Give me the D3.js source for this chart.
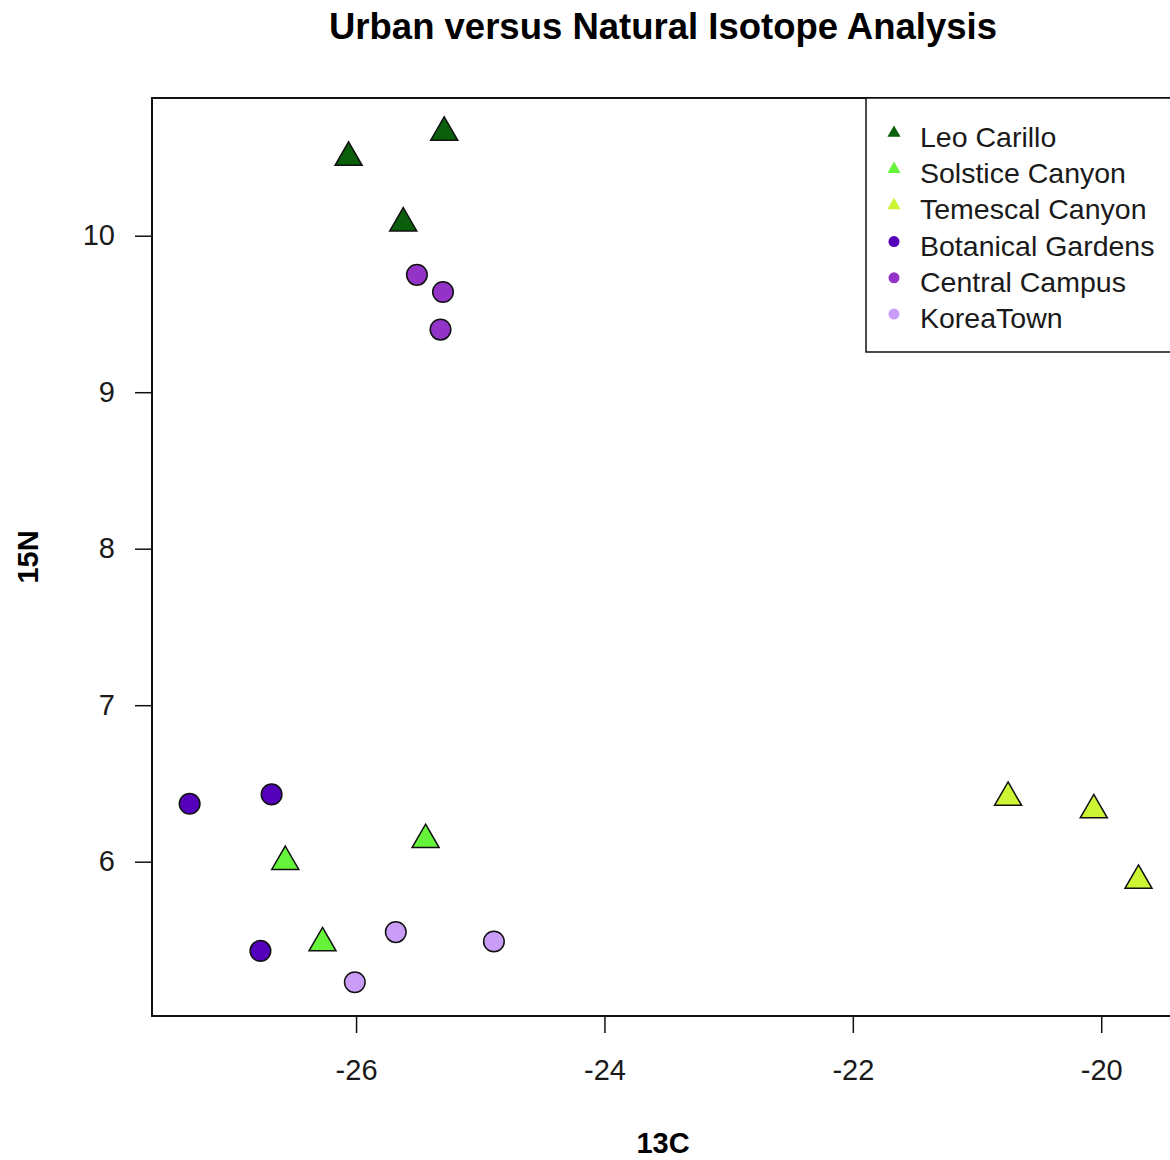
<!DOCTYPE html>
<html>
<head>
<meta charset="utf-8">
<script src="https://cdn.jsdelivr.net/npm/d3@7"></script>
<style>
  body { margin: 0; background: #fff; }
  text { font-family: "Liberation Sans", Arial, sans-serif; }
</style>
</head>
<body>
<div id="chart"></div>
<script>
// sites, in legend order
const sites = ["Leo Carillo", "Solstice Canyon", "Temescal Canyon", "Botanical Gardens", "Central Campus", "KoreaTown"];
const siteColors = ["#0b5e0b", "#66f43a", "#ccf533", "#5500bb", "#9433c8", "#c99cf7"];
const siteShapes = ["triangle", "triangle", "triangle", "circle", "circle", "circle"];

// 13C / 15N readings per site
const leoC13 = [-25.29, -26.06, -25.62];
const leoN15 = [10.66, 10.50, 10.08];
const solsticeC13 = [-26.57, -25.44, -26.27];
const solsticeN15 = [6.00, 6.14, 5.48];
const temescalC13 = [-20.75, -20.06, -19.70];
const temescalN15 = [6.41, 6.33, 5.88];
const botanicalC13 = [-27.34, -26.68, -26.77];
const botanicalN15 = [6.37, 6.43, 5.43];
const campusC13 = [-25.51, -25.30, -25.32];
const campusN15 = [9.75, 9.64, 9.40];
const koreaC13 = [-25.68, -24.89, -26.01];
const koreaN15 = [5.55, 5.49, 5.23];

const xTicks = [-26, -24, -22, -20];
const yTicks = [6, 7, 8, 9, 10];

const allC13 = [leoC13, solsticeC13, temescalC13, botanicalC13, campusC13, koreaC13];
const allN15 = [leoN15, solsticeN15, temescalN15, botanicalN15, campusN15, koreaN15];

let points = [];
sites.forEach((s, i) => {
  allC13[i].forEach((c, j) => points.push({site: i, c13: c, n15: allN15[i][j]}));
});

const width = 1170, height = 1160;
const plot = {left: 152, right: 1174, top: 98, bottom: 1016};

const svg = d3.select("#chart").append("svg")
  .attr("width", width).attr("height", height);

const x = d3.scaleLinear().domain([-27.643, -19.414]).range([plot.left, plot.right]);
const y = d3.scaleLinear().domain([5.014, 10.880]).range([plot.bottom, plot.top]);

// title
svg.append("text")
  .attr("x", (plot.left + plot.right) / 2).attr("y", 39)
  .attr("text-anchor", "middle")
  .style("font-size", "36.5px").style("font-weight", "bold")
  .text("Urban versus Natural Isotope Analysis");

// axes (plain hyphen minus like R)
const xAxis = svg.append("g")
  .attr("transform", `translate(0,${plot.bottom})`)
  .call(d3.axisBottom(x).tickValues(xTicks).tickSize(17).tickPadding(26).tickFormat(d => String(d)));
const yAxis = svg.append("g")
  .attr("transform", `translate(${plot.left},0)`)
  .call(d3.axisLeft(y).tickValues(yTicks).tickSize(17).tickPadding(20).tickFormat(d => String(d)));
[xAxis, yAxis].forEach(a => {
  a.select(".domain").remove();
  a.selectAll(".tick line").attr("stroke", "#111").attr("stroke-width", 1.5);
  a.selectAll(".tick text").style("font-size", "29px").attr("fill", "#1a1a1a")
    .style("font-family", "'Liberation Sans', Arial, sans-serif");
});
xAxis.selectAll(".tick text").attr("dy", "0.71em");

// plot frame
svg.append("rect")
  .attr("x", plot.left).attr("y", plot.top)
  .attr("width", plot.right - plot.left).attr("height", plot.bottom - plot.top)
  .attr("fill", "none").attr("stroke", "#111").attr("stroke-width", 2);

// axis titles
svg.append("text")
  .attr("x", (plot.left + plot.right) / 2).attr("y", 1153)
  .attr("text-anchor", "middle")
  .style("font-size", "29px").style("font-weight", "bold")
  .text("13C");
svg.append("text")
  .attr("transform", `translate(38,${(plot.top + plot.bottom) / 2}) rotate(-90)`)
  .attr("text-anchor", "middle")
  .style("font-size", "29px").style("font-weight", "bold")
  .text("15N");

// points
const tri = d3.symbol().type(d3.symbolTriangle).size(316);
svg.append("g").selectAll("path")
  .data(points)
  .join("path")
    .attr("transform", d => `translate(${x(d.c13)},${y(d.n15)})`)
    .attr("d", d => siteShapes[d.site] == "triangle" ? tri() : d3.symbol().type(d3.symbolCircle).size(Math.PI * 10.3 * 10.3)())
    .attr("fill", d => siteColors[d.site])
    .attr("stroke", "#111")
    .attr("stroke-width", 1.5);

// legend
const legend = svg.append("g");
legend.append("rect")
  .attr("x", 866).attr("y", plot.top)
  .attr("width", 320).attr("height", 254)
  .attr("fill", "#fff").attr("stroke", "#111").attr("stroke-width", 1.5);
const rows = legend.selectAll("g.row")
  .data(sites)
  .join("g")
    .attr("class", "row")
    .attr("transform", (d, i) => `translate(0,${137 + i * 36.2})`);
rows.append("path")
  .attr("transform", "translate(894,-4)")
  .attr("d", (d, i) => siteShapes[i] == "triangle"
    ? d3.symbol().type(d3.symbolTriangle).size(75)()
    : d3.symbol().type(d3.symbolCircle).size(Math.PI * 5.5 * 5.5)())
  .attr("fill", (d, i) => siteColors[i]);
rows.append("text")
  .attr("x", 920).attr("y", 10)
  .style("font-size", "28.5px").attr("fill", "#1a1a1a")
  .text(d => d);
</script>
</body>
</html>
